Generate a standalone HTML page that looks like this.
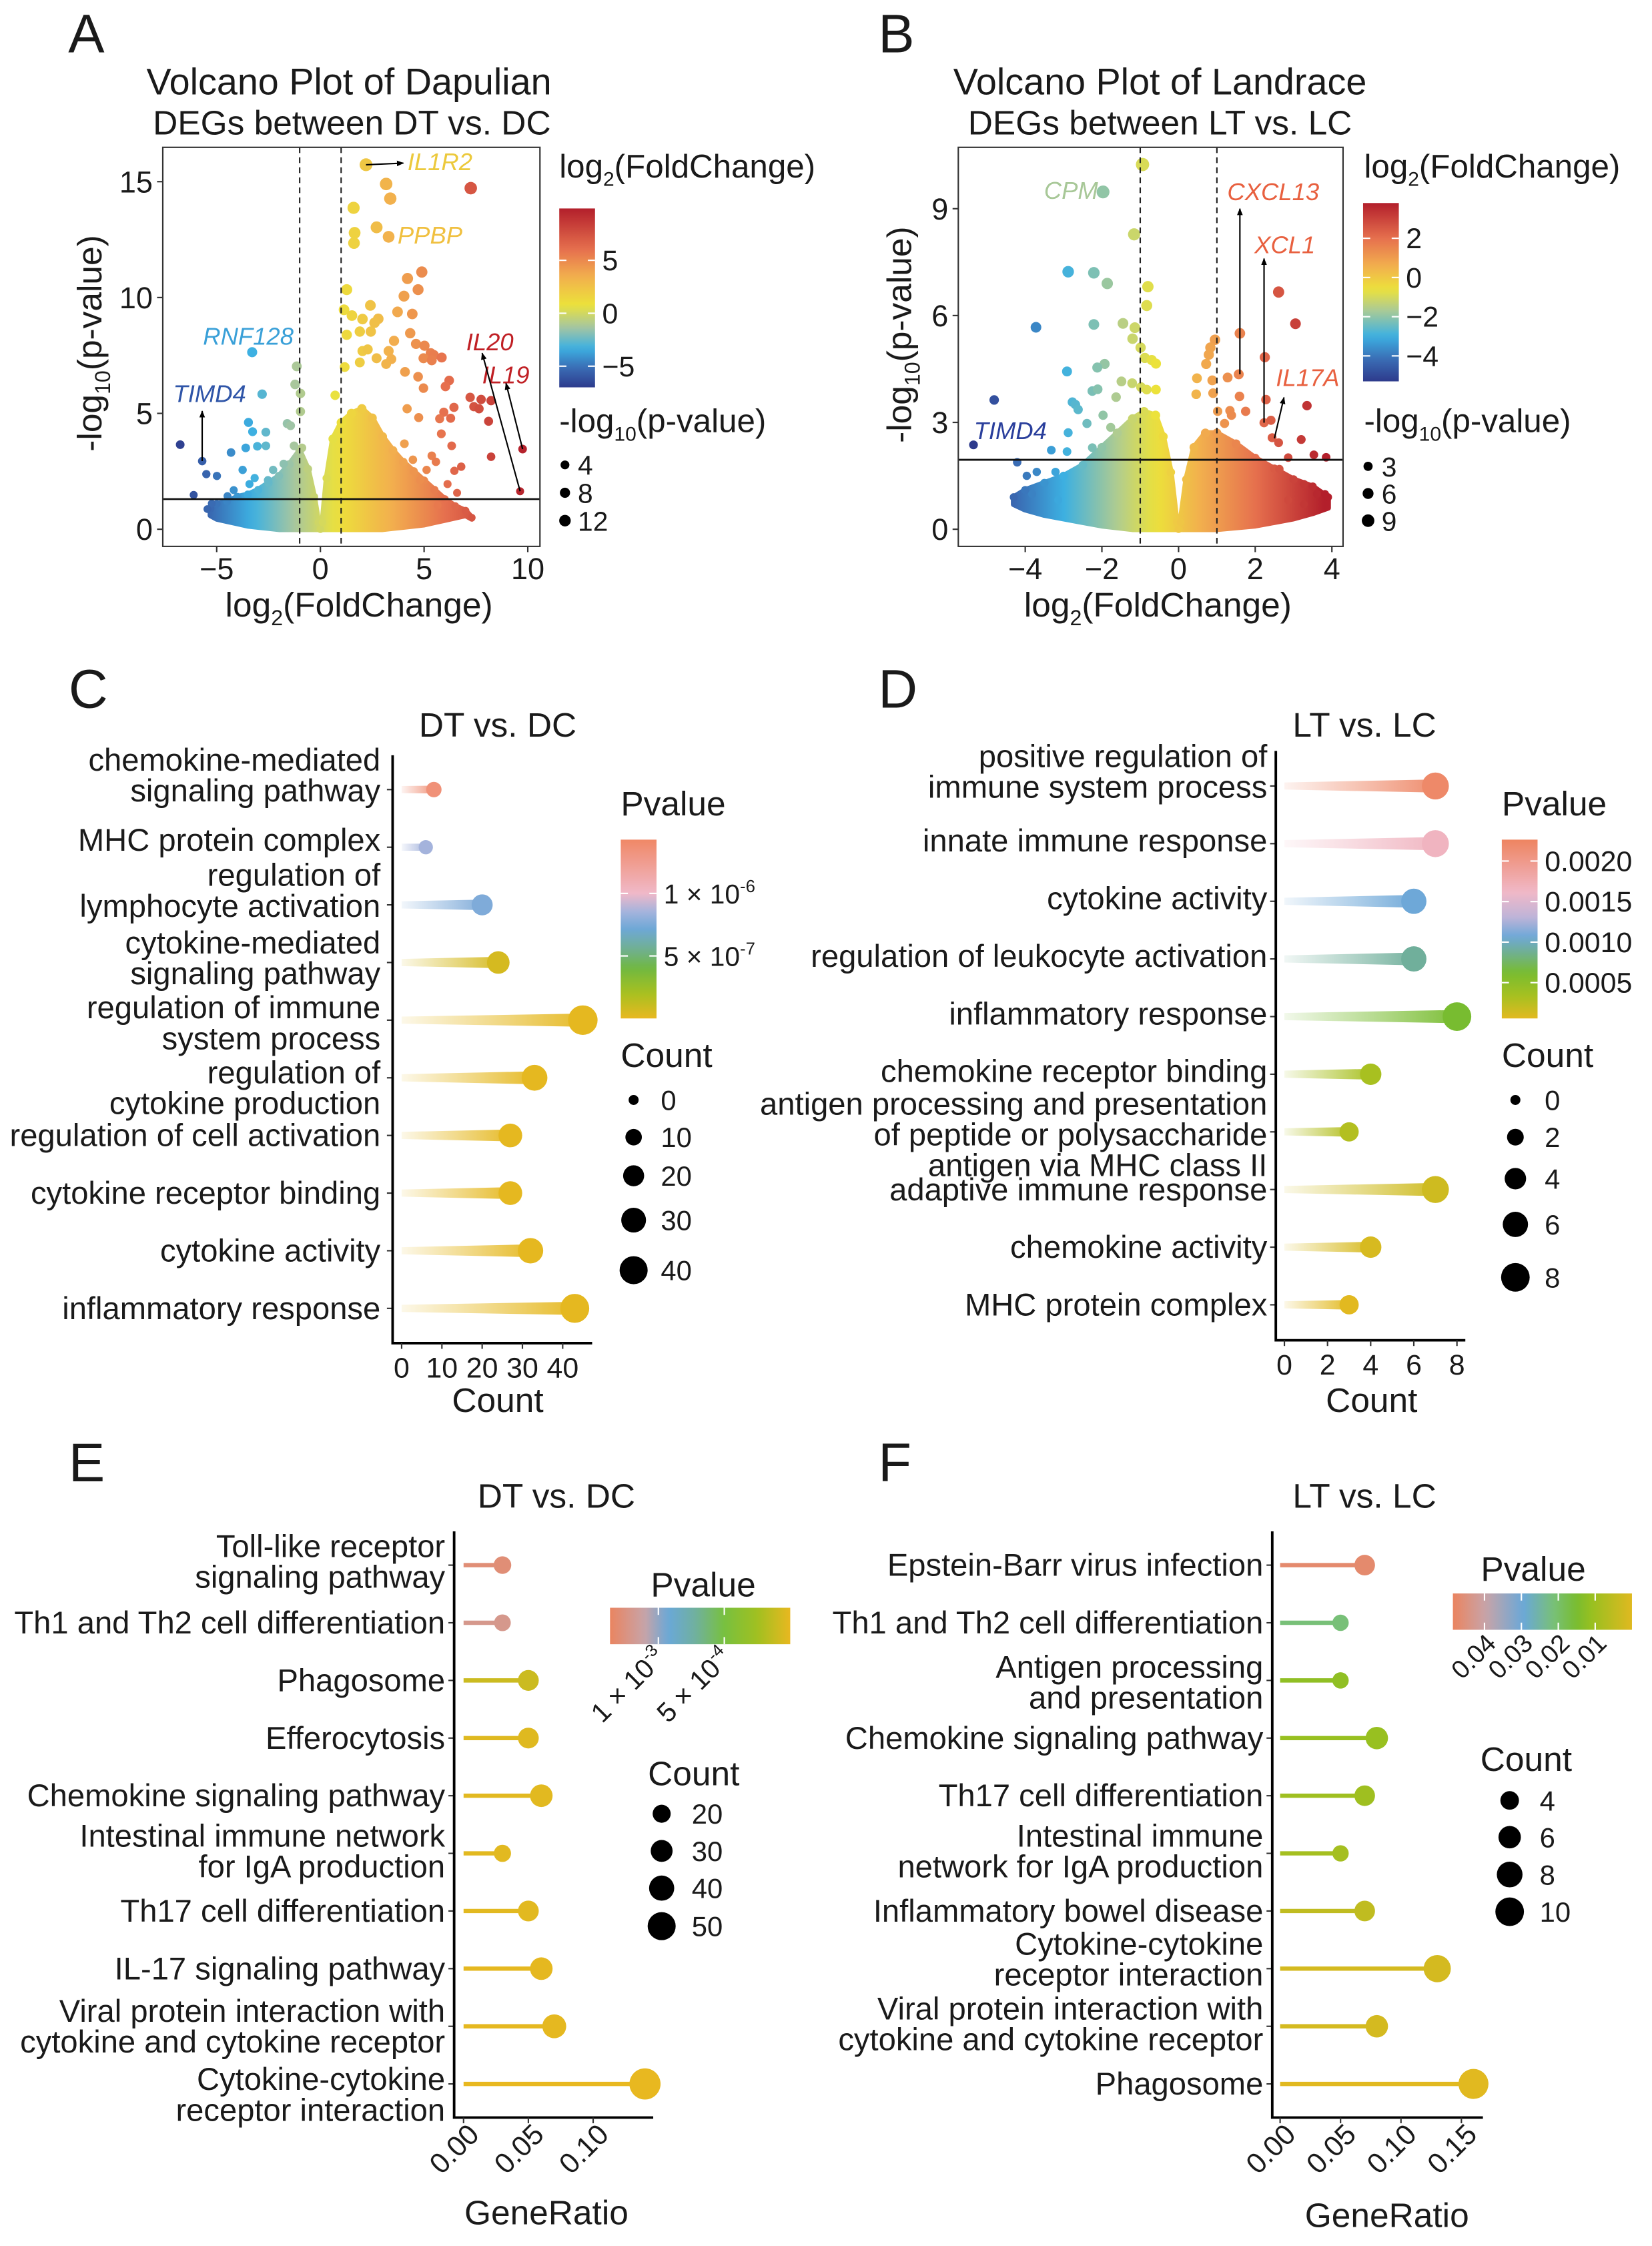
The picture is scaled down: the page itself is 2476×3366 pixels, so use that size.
<!DOCTYPE html>
<html><head><meta charset="utf-8">
<style>
html,body{margin:0;padding:0;background:#fff}
svg{display:block;font-family:"Liberation Sans",Arial,sans-serif}
text{fill:#1a1a1a}
</style></head>
<body>
<svg id="fig" xmlns="http://www.w3.org/2000/svg" width="2476" height="3366" viewBox="0 0 1155 1570.2">
<defs id="defs">
<marker id="arrow" viewBox="0 0 10 10" refX="9" refY="5" markerWidth="5" markerHeight="5" orient="auto"><path d="M0,1 L10,5 L0,9 z" fill="#000"/></marker>
</defs>
<rect x="0" y="0" width="1155" height="1570.2" fill="#fff"/>
<text x="47.7" y="36.7" font-size="38">A</text>
<text x="614" y="36.7" font-size="38">B</text>
<text x="48" y="494.6" font-size="38">C</text>
<text x="614" y="494.6" font-size="38">D</text>
<text x="48" y="1035.6" font-size="38">E</text>
<text x="614" y="1035.6" font-size="38">F</text>
<text x="244" y="66" font-size="26" text-anchor="middle">Volcano Plot of Dapulian</text>
<text x="246" y="94" font-size="24" text-anchor="middle">DEGs between DT vs. DC</text>
<text transform="translate(71,240) rotate(-90)" font-size="24" text-anchor="middle">-log<tspan font-size="15" dy="6">10</tspan><tspan dy="-6">(p-value)</tspan></text>
<text x="251" y="431" font-size="24" text-anchor="middle">log<tspan font-size="15" dy="6">2</tspan><tspan dy="-6">(FoldChange)</tspan></text>
<text x="391" y="124" font-size="23">log<tspan font-size="14" dy="6">2</tspan><tspan dy="-6">(FoldChange)</tspan></text>
<text x="391" y="302" font-size="23">-log<tspan font-size="14" dy="6">10</tspan><tspan dy="-6">(p-value)</tspan></text>
<text x="811" y="66" font-size="26" text-anchor="middle">Volcano Plot of Landrace</text>
<text x="811" y="94" font-size="24" text-anchor="middle">DEGs between LT vs. LC</text>
<text transform="translate(637,234) rotate(-90)" font-size="24" text-anchor="middle">-log<tspan font-size="15" dy="6">10</tspan><tspan dy="-6">(p-value)</tspan></text>
<text x="809.5" y="431" font-size="24" text-anchor="middle">log<tspan font-size="15" dy="6">2</tspan><tspan dy="-6">(FoldChange)</tspan></text>
<text x="953.7" y="124" font-size="23">log<tspan font-size="14" dy="6">2</tspan><tspan dy="-6">(FoldChange)</tspan></text>
<text x="953.7" y="302" font-size="23">-log<tspan font-size="14" dy="6">10</tspan><tspan dy="-6">(p-value)</tspan></text>
<text x="348" y="515" font-size="24" text-anchor="middle">DT vs. DC</text>
<text x="954" y="515" font-size="24" text-anchor="middle">LT vs. LC</text>
<text x="348" y="987" font-size="24" text-anchor="middle">Count</text>
<text x="959" y="987" font-size="24" text-anchor="middle">Count</text>
<text x="434" y="570" font-size="24">Pvalue</text>
<text x="1050" y="570" font-size="24">Pvalue</text>
<text x="434" y="746" font-size="24">Count</text>
<text x="1050" y="746" font-size="24">Count</text>
<text x="389" y="1054" font-size="24" text-anchor="middle">DT vs. DC</text>
<text x="954" y="1054" font-size="24" text-anchor="middle">LT vs. LC</text>
<text x="382" y="1555" font-size="24" text-anchor="middle">GeneRatio</text>
<text x="969.7" y="1557" font-size="24" text-anchor="middle">GeneRatio</text>
<text x="491.7" y="1116" font-size="24" text-anchor="middle">Pvalue</text>
<text x="1072" y="1105" font-size="24" text-anchor="middle">Pvalue</text>
<text x="453" y="1248" font-size="24">Count</text>
<text x="1035" y="1238" font-size="24">Count</text>
</svg>
<script>
// ================= DATA =================
const volcA_fc=[2.2,3.17,3.37,7.25,1.6,2.71,1.65,3.29,1.62,4.89,4.2,1.27,4.71,4.03,2.41,1.14,3.72,4.43,1.52,2.03,2.79,2.61,4.33,1.27,1.9,2.43,3.55,4.61,5.02,2.03,2.28,2.71,3.29,3.42,5.32,5.47,5.85,4.97,5.37,1.9,3.17,1.17,4.08,4.71,6.21,6.03,4.97,-3.29,-1.14,-1.22,-0.96,-2.81,0.71,-0.96,7.22,7.75,8.23,7.4,7.65,8.11,6.44,5.95,6.28,5.75,4.18,4.74,-1.6,-1.44,-3.47,-3.27,-2.63,-6.76,-3.6,-3.04,-2.63,-4.31,-5.7,9.75,8.23,9.63,-5.5,-4.99,-3.75,-6.11,-5.24,-5.45,6.33,6.79,6.46,6.13,6.59,5.65,5.83,5.37,5.57,5.12,4.81,4.46,4.05,-4.48,-4.18,-3.42,-3.17,-2.53,-2.28,-1.27,-0.89,-1.77];
const volcA_p=[15.73,14.9,14.27,14.72,13.87,13.03,12.79,12.62,12.35,11.1,10.82,10.34,10.34,10.06,9.66,9.47,9.38,9.29,9.22,9.07,9.08,8.91,8.46,8.39,8.53,8.53,8.13,8.0,7.92,7.69,7.76,7.38,7.69,7.34,7.6,7.52,7.41,7.38,7.29,7.2,7.13,7.0,6.79,6.58,6.42,6.16,6.09,7.64,7.03,6.25,5.86,5.83,5.78,5.08,5.69,5.6,5.55,5.29,5.2,4.66,5.26,5.05,4.79,4.77,5.2,4.82,4.56,4.47,4.61,4.21,4.19,3.65,3.51,3.58,3.6,3.31,2.94,3.46,3.13,1.64,2.38,2.3,2.56,1.48,1.11,0.87,3.6,2.7,2.52,1.95,1.57,1.03,4.12,3.17,2.91,2.56,2.12,3.0,3.69,1.43,1.69,1.95,2.21,2.12,2.56,3.6,3.51,2.82];
const volcA_envFc=[-5.3,-5,-4.5,-4,-3.5,-3,-2.5,-2,-1.5,-1,-0.6,-0.3,-0.1,0,0.1,0.3,0.6,1,1.5,2,2.5,3,3.5,4,4.5,5,5.5,6,6.5,7,7.3];
const volcA_envP=[0.9,1.1,1.2,1.4,1.5,1.7,2.0,2.3,2.8,3.4,2.6,1.4,0.3,0,0.3,2.2,3.9,4.6,5.0,5.2,4.8,4.0,3.4,2.9,2.5,2.1,1.7,1.3,1.0,0.8,0.5];
const volcA_envBot=[0.6,0.45,0.35,0.25,0.15,0.1,0.05,0,0,0,0,0,0,0,0,0,0,0,0,0,0,0,0.05,0.1,0.15,0.2,0.3,0.4,0.5,0.6,0.45];
const volcA_xTicks=[-5,0,5,10];
const volcA_yTicks=[0,5,10,15];
const volcA_cbTicks=[5,0,-5];
const volcA_sizeTicks=[4,8,12];
const volcA_genes=['IL1R2','PPBP','RNF128','TIMD4','IL20','IL19'];
const volcA_geneFc=[4.2,3.72,-5.66,-7.1,7.03,7.8];
const volcA_geneP=[15.86,12.7,8.33,5.86,8.09,6.67];
const volcA_geneColor=['#ecc93c','#f0c040','#3aa0d8','#2f55a8','#c01f24','#c01f24'];
const volcA_arrFromFc=[2.2,-5.7,9.63,9.75];
const volcA_arrFromP=[15.73,2.94,1.64,3.46];
const volcA_arrToFc=[4.0,-5.7,7.8,8.95];
const volcA_arrToP=[15.8,5.1,7.6,6.3];

const volcB_fc=[-0.94,-1.97,-1.16,-2.88,-2.21,-1.86,-0.8,-0.83,2.61,3.05,-3.72,-2.21,-1.45,-1.14,-1.2,1.6,0.95,0.83,0.79,-0.99,2.25,-0.88,-0.7,-0.59,-1.93,-2.12,0.72,-2.91,1.57,1.28,0.48,0.88,-1.49,-1.21,-0.98,-0.83,-0.59,-2.25,-2.11,-1.63,0.46,0.9,-4.81,1.59,2.28,3.35,-2.77,-2.69,-2.62,1.75,1.34,1.38,1.02,1.2,2.23,2.41,-2.88,2.44,2.61,3.2,-5.35,-3.32,-2.91,-4.21,2.86,3.53,3.85,2.63,-3.96,-3.7,-4.0,-3.82,-3.21,-3.14,3.27,3.61,3.82,2.86,3.27,-2.39,-1.97,-1.77,-2.25];
const volcB_p=[10.24,9.47,8.28,7.23,7.2,6.9,6.81,6.28,6.66,5.77,5.67,5.75,5.78,5.66,5.35,5.5,5.32,5.1,4.9,5.1,4.83,4.81,4.75,4.65,4.64,4.54,4.64,4.43,4.35,4.26,4.24,4.18,4.15,4.1,3.99,3.92,3.92,3.88,3.93,3.71,3.79,3.82,3.63,3.73,3.64,3.47,3.57,3.5,3.36,3.31,3.33,3.2,3.31,2.97,2.99,3.06,2.71,2.57,2.43,2.52,2.37,2.22,2.18,1.88,2.01,2.09,2.02,1.69,1.5,1.61,1.1,0.99,1.61,0.82,1.27,0.99,0.99,0.82,0.7,2.97,3.2,2.86,2.29];
const volcB_envFc=[-4.3,-4,-3.5,-3,-2.5,-2,-1.6,-1.2,-0.9,-0.6,-0.4,-0.2,-0.05,0,0.05,0.2,0.4,0.7,1,1.5,2,2.5,3,3.5,3.9];
const volcB_envP=[0.9,1.1,1.3,1.5,1.8,2.3,2.7,3.1,3.3,3.2,2.6,1.6,0.2,0,0.2,1.4,2.3,2.7,2.7,2.4,2.0,1.7,1.4,1.2,0.9];
const volcB_envBot=[0.7,0.55,0.4,0.3,0.2,0.1,0.05,0,0,0,0,0,0,0,0,0,0,0,0,0.05,0.1,0.2,0.3,0.45,0.6];
const volcB_xTicks=[-4,-2,0,2,4];
const volcB_yTicks=[0,3,6,9];
const volcB_cbTicks=[2,0,-2,-4];
const volcB_sizeTicks=[3,6,9];
const volcB_genes=['CPM','CXCL13','XCL1','IL17A','TIMD4'];
const volcB_geneFc=[-3.51,1.27,1.98,2.54,-5.34];
const volcB_geneP=[9.52,9.48,7.99,4.26,2.77];
const volcB_geneColor=['#a8c898','#e8603f','#e8603f','#e8603f','#2a3f9c'];
const volcB_arrFromFc=[1.6,2.23,2.5];
const volcB_arrFromP=[4.35,2.99,2.55];
const volcB_arrToFc=[1.6,2.23,2.75];
const volcB_arrToP=[9.0,7.6,3.7];

const goC_terms=[['chemokine-mediated','signaling pathway'],['MHC protein complex'],['regulation of','lymphocyte activation'],['cytokine-mediated','signaling pathway'],['regulation of immune','system process'],['regulation of','cytokine production'],['regulation of cell activation'],['cytokine receptor binding'],['cytokine activity'],['inflammatory response']];
const goC_count=[8,6,20,24,45,33,27,27,32,43];
const goC_p=[1.35e-6,0.85e-6,0.76e-6,0.06e-6,0.01e-6,0.01e-6,0.01e-6,0.01e-6,0.01e-6,0.01e-6];
const goC_xTicks=[0,10,20,30,40];
const goC_cbTicks=[1e-6,5e-7];
const goC_cbMant=['1 × 10','5 × 10'];
const goC_cbExp=['-6','-7'];
const goC_countTicks=[0,10,20,30,40];

const goD_terms=[['positive regulation of','immune system process'],['innate immune response'],['cytokine activity'],['regulation of leukocyte activation'],['inflammatory response'],['chemokine receptor binding'],['antigen processing and presentation','of peptide or polysaccharide','antigen via MHC class II'],['adaptive immune response'],['chemokine activity'],['MHC protein complex']];
const goD_count=[7,7,6,6,8,4,3,7,4,3];
const goD_p=[0.0022,0.00165,0.00105,0.00088,0.0006,0.0003,0.00025,0.00012,0.00008,0.00003];
const goD_xTicks=[0,2,4,6,8];
const goD_cbTicks=[0.002,0.0015,0.001,0.0005];
const goD_cbLabels=['0.0020','0.0015','0.0010','0.0005'];
const goD_countTicks=[0,2,4,6,8];

const keggE_terms=[['Toll-like receptor','signaling pathway'],['Th1 and Th2 cell differentiation'],['Phagosome'],['Efferocytosis'],['Chemokine signaling pathway'],['Intestinal immune network','for IgA production'],['Th17 cell differentiation'],['IL-17 signaling pathway'],['Viral protein interaction with','cytokine and cytokine receptor'],['Cytokine-cytokine','receptor interaction']];
const keggE_ratio=[0.03,0.03,0.05,0.05,0.06,0.03,0.05,0.06,0.07,0.14];
const keggE_count=[19,17,27,27,32,18,27,32,36,62];
const keggE_p=[1.28e-3,1.2e-3,0.1e-3,0.03e-3,0.02e-3,0.02e-3,0.02e-3,0.01e-3,0.01e-3,0.0];
const keggE_xTicks=[0,0.05,0.10];
const keggE_xLabels=['0.00','0.05','0.10'];
const keggE_cbTicks=[1e-3,5e-4];
const keggE_cbMant=['1 × 10','5 × 10'];
const keggE_cbExp=['-3','-4'];
const keggE_countTicks=[20,30,40,50];

const keggF_terms=[['Epstein-Barr virus infection'],['Th1 and Th2 cell differentiation'],['Antigen processing','and presentation'],['Chemokine signaling pathway'],['Th17 cell differentiation'],['Intestinal immune','network for IgA production'],['Inflammatory bowel disease'],['Cytokine-cytokine','receptor interaction'],['Viral protein interaction with','cytokine and cytokine receptor'],['Phagosome']];
const keggF_ratio=[0.07,0.05,0.05,0.08,0.07,0.05,0.07,0.13,0.08,0.16];
const keggF_count=[5,3,3,6,5,3,5,9,6,11];
const keggF_p=[0.047,0.022,0.013,0.012,0.011,0.010,0.006,0.003,0.003,0.001];
const keggF_xTicks=[0,0.05,0.10,0.15];
const keggF_xLabels=['0.00','0.05','0.10','0.15'];
const keggF_cbTicks=[0.04,0.03,0.02,0.01];
const keggF_cbLabels=['0.04','0.03','0.02','0.01'];
const keggF_countTicks=[4,6,8,10];

// ================= STYLE =================
const stopsA=[[-7,'#2d3a8c'],[-5.2,'#3a6cb4'],[-3.3,'#3cb0e2'],[-1.3,'#a6c6a0'],[0.8,'#ece23a'],[3.5,'#f2ae4e'],[6,'#e6704e'],[9.9,'#b31f2b']];
const stopsB=[[-5.3,'#2d3a8c'],[-4.2,'#3a6cb4'],[-3,'#3cb0e2'],[-1.6,'#b0cc90'],[-0.6,'#ece23a'],[0.6,'#f2ae4e'],[2,'#e6704e'],[3.8,'#b31f2b']];
const stopsC=[[0,'#e8b820'],[0.2e-6,'#a8c020'],[0.4e-6,'#70b840'],[0.55e-6,'#70b090'],[0.72e-6,'#6ea8d8'],[0.86e-6,'#a8b4dc'],[1.0e-6,'#f0b8c8'],[1.43e-6,'#f08866']];
const stopsD=[[0,'#e8b820'],[0.0003,'#a8c020'],[0.0006,'#78bc30'],[0.00085,'#70b090'],[0.00105,'#6ea8d8'],[0.0013,'#c0b4d8'],[0.0016,'#f0b8c8'],[0.00226,'#ee8460']];
const stopsE=[[0,'#e8b820'],[0.25e-3,'#a0c020'],[0.5e-3,'#78c040'],[0.72e-3,'#70b0a0'],[0.92e-3,'#6aa8d8'],[1.1e-3,'#c8a4a8'],[1.36e-3,'#ea8460']];
const stopsF=[[0,'#e8b820'],[0.012,'#98c020'],[0.016,'#78bc30'],[0.022,'#78c078'],[0.03,'#6aa8d8'],[0.04,'#c8a4a8'],[0.0486,'#ea8460']];

// ================= HELPERS =================
const NS='http://www.w3.org/2000/svg';
const svg=document.getElementById('fig');
const defs=document.getElementById('defs');
function mk(tag,attrs,parent){const e=document.createElementNS(NS,tag);for(const k in attrs)e.setAttribute(k,attrs[k]);(parent||svg).appendChild(e);return e;}
function h2r(h){return [parseInt(h.slice(1,3),16),parseInt(h.slice(3,5),16),parseInt(h.slice(5,7),16)];}
function mix(a,b,t){const A=h2r(a),B=h2r(b);return 'rgb('+A.map((v,i)=>Math.round(v+(B[i]-v)*t)).join(',')+')';}
function colorAt(stops,v){if(v<=stops[0][0])return mix(stops[0][1],stops[0][1],0);for(let i=1;i<stops.length;i++){if(v<=stops[i][0]){const t=(v-stops[i-1][0])/(stops[i][0]-stops[i-1][0]);return mix(stops[i-1][1],stops[i][1],t);}}const l=stops[stops.length-1][1];return mix(l,l,0);}
function T(x,y,s,size,anchor,parent){const e=mk('text',{x:x,y:y,'font-size':size,'text-anchor':anchor||'start'},parent);e.textContent=s;return e;}
const fmtMinus=v=>String(v).replace('-','\u2212');

// ================= VOLCANO =================
function drawVolcano(P){
  const g=mk('g',{});
  
  
  const [L,Tp,R,B]=P.box;
  const sx=v=>P.x0+v*P.kx, sy=v=>P.y0-v*P.ky, inv=px=>(px-P.x0)/P.kx;
  const cp=mk('clipPath',{id:P.id+'-clip'},defs);
  mk('rect',{x:L,y:Tp,width:R-L,height:B-Tp},cp);
  const lg=mk('linearGradient',{id:P.id+'-grad',gradientUnits:'userSpaceOnUse',x1:L,x2:R,y1:0,y2:0},defs);
  for(let i=0;i<=40;i++){const px=L+(R-L)*i/40;mk('stop',{offset:i/40,'stop-color':colorAt(P.stops,inv(px))},lg);}
  const pg=mk('g',{'clip-path':'url(#'+P.id+'-clip)'},g);
  
  
  const pts=P.envFc.map((v,i)=>sx(v)+','+sy(P.envP[i]));
  for(let i=P.envFc.length-1;i>=0;i--) pts.push(sx(P.envFc[i])+','+sy(P.envBot[i]));
  const cloud=mk('polygon',{points:pts.join(' '),fill:'url(#'+P.id+'-grad)',stroke:'url(#'+P.id+'-grad)','stroke-width':4,'stroke-linejoin':'round'},pg);
  
  
  P.envFc.forEach((v,i)=>{
    const c=mk('circle',{cx:sx(v),cy:sy(P.envP[i]),r:P.rf(P.envP[i]),fill:colorAt(P.stops,v)},pg);
    
    
  });
  P.fc.forEach((v,i)=>{
    const c=mk('circle',{cx:sx(v),cy:sy(P.p[i]),r:P.rf(P.p[i]),fill:colorAt(P.stops,v)},pg);
    
    
  });
  P.vlines.forEach(v=>{
    const l=mk('line',{x1:sx(v),x2:sx(v),y1:Tp,y2:B,stroke:'#222','stroke-width':1,'stroke-dasharray':'4,3'},g);
    
    
  });
  const hl=mk('line',{x1:L,x2:R,y1:sy(P.hline),y2:sy(P.hline),stroke:'#111','stroke-width':1.3},g);
  
  
  const box=mk('rect',{x:L,y:Tp,width:R-L,height:B-Tp,fill:'none',stroke:'#333','stroke-width':1},g);
  
  
  P.xTicks.forEach(t=>{
    const tk=mk('line',{x1:sx(t),x2:sx(t),y1:B,y2:B+4,stroke:'#333','stroke-width':1},g);
    
    
    const tl=T(sx(t),B+23,fmtMinus(t),21,'middle',g);
    
    
  });
  P.yTicks.forEach(t=>{
    const tk=mk('line',{x1:L-4,x2:L,y1:sy(t),y2:sy(t),stroke:'#333','stroke-width':1},g);
    
    
    const tl=T(L-7,sy(t)+7.5,String(t),21,'end',g);
    
    
  });
  P.genes.forEach((s,i)=>{
    const t=T(sx(P.geneFc[i]),sy(P.geneP[i])+6,s,17,'start',g);
    t.setAttribute('font-style','italic');
    t.setAttribute('style','fill:'+P.geneColor[i]);
    
    
  });
  P.arrFromFc.forEach((v,i)=>{
    const a=mk('line',{x1:sx(v),y1:sy(P.arrFromP[i]),x2:sx(P.arrToFc[i]),y2:sy(P.arrToP[i]),stroke:'#000','stroke-width':1,'marker-end':'url(#arrow)'},g);
    
    
  });
  const cb=P.cb;
  const cy=v=>cb.y0-v*cb.k;
  const cg=mk('linearGradient',{id:P.id+'-cb',x1:0,y1:1,x2:0,y2:0},defs);
  for(let i=0;i<=30;i++){const v=cb.min+(cb.max-cb.min)*i/30;mk('stop',{offset:i/30,'stop-color':colorAt(P.stops,v)},cg);}
  const cr=mk('rect',{x:cb.x,y:cy(cb.max),width:cb.w,height:cy(cb.min)-cy(cb.max),fill:'url(#'+P.id+'-cb)'},g);
  
  
  cb.ticks.forEach(t=>{
    const w1=mk('line',{x1:cb.x,x2:cb.x+5,y1:cy(t),y2:cy(t),stroke:'#fff','stroke-width':1},g);
    
    
    const w2=mk('line',{x1:cb.x+cb.w-5,x2:cb.x+cb.w,y1:cy(t),y2:cy(t),stroke:'#fff','stroke-width':1},g);
    
    
    const tl=T(cb.lx,cy(t)+7,fmtMinus(t),20,'start',g);
    
    
  });
  P.size.vals.forEach((v,i)=>{
    const c=mk('circle',{cx:P.size.x,cy:P.size.ys[i],r:P.rf(v),fill:'#000'},g);
    
    
    const tl=T(P.size.lx,P.size.ys[i]+7,String(v),19,'start',g);
    
    
  });
}

drawVolcano({id:'va',name:'volcano-plot-dapulian',box:[113.8,103,377.5,382],x0:224,kx:14.5,y0:370,ky:16.2,
  fc:volcA_fc,p:volcA_p,envFc:volcA_envFc,envP:volcA_envP,envBot:volcA_envBot,stops:stopsA,rf:p=>2.6+0.12*p,
  vlines:[-1,1],hline:1.3,xTicks:volcA_xTicks,yTicks:volcA_yTicks,
  genes:volcA_genes,geneFc:volcA_geneFc,geneP:volcA_geneP,geneColor:volcA_geneColor,
  arrFromFc:volcA_arrFromFc,arrFromP:volcA_arrFromP,arrToFc:volcA_arrToFc,arrToP:volcA_arrToP,
  cb:{x:391,w:25,y0:219,k:7.4,min:-7,max:9.9,ticks:volcA_cbTicks,lx:421},
  size:{x:395,lx:404,ys:[325,344.5,364],vals:volcA_sizeTicks}});

drawVolcano({id:'vb',name:'volcano-plot-landrace',box:[670,103,939,382],x0:824,kx:26.8,y0:370,ky:24.9,
  fc:volcB_fc,p:volcB_p,envFc:volcB_envFc,envP:volcB_envP,envBot:volcB_envBot,stops:stopsB,rf:p=>2.6+0.2*p,
  vlines:[-1,1],hline:1.95,xTicks:volcB_xTicks,yTicks:volcB_yTicks,
  genes:volcB_genes,geneFc:volcB_geneFc,geneP:volcB_geneP,geneColor:volcB_geneColor,
  arrFromFc:volcB_arrFromFc,arrFromP:volcB_arrFromP,arrToFc:volcB_arrToFc,arrToP:volcB_arrToP,
  cb:{x:953,w:25,y0:194,k:13.7,min:-5.3,max:3.8,ticks:volcB_cbTicks,lx:983},
  size:{x:956.5,lx:966,ys:[326,345,364],vals:volcB_sizeTicks}});

// ================= LOLLIPOP =================
function drawLolli(P){
  const g=mk('g',{});
  
  
  const rowY=i=>P.y0+i*P.dy;
  P.terms.forEach((lines,i)=>{
    const y=rowY(i);
    const col=colorAt(P.stops,P.pv[i]);
    const r=P.rf(P.cnt[i]);
    const x0=P.sx(0), xv=P.sx(P.vals[i]);
    const tk=mk('line',{x1:P.ax-4,x2:P.ax,y1:y,y2:y,stroke:'#333','stroke-width':1},g);
    
    
    const n=lines.length;
    lines.forEach((s,j)=>{
      const t=T(P.lx,y+P.shift[i]+(j-(n-1)/2)*21.5+7.5,s,22,'end',g);
      
      
    });
    if(P.wedge){
      const gid=P.id+'-stem'+i;
      const lg=mk('linearGradient',{id:gid,x1:0,y1:0,x2:1,y2:0},defs);
      mk('stop',{offset:0,'stop-color':col,'stop-opacity':0.1},lg);
      mk('stop',{offset:0.6,'stop-color':col,'stop-opacity':0.6},lg);
      mk('stop',{offset:1,'stop-color':col,'stop-opacity':0.95},lg);
      const h=Math.min(r*0.5,4.6);
      const st=mk('polygon',{points:`${x0},${y-2.5} ${xv},${y-h} ${xv},${y+h} ${x0},${y+2.5}`,fill:'url(#'+gid+')'},g);
      
      
    } else {
      const st=mk('line',{x1:x0,x2:xv,y1:y,y2:y,stroke:col,'stroke-width':3},g);
      
      
    }
    const d=mk('circle',{cx:xv,cy:y,r:r,fill:col},g);
    
    
  });
  const ax=mk('path',{d:`M${P.ax},${P.top} V${P.bot} H${P.right}`,stroke:'#000','stroke-width':1.8,fill:'none'},g);
  
  
  P.xTicks.forEach((t,i)=>{
    const x=P.sx(t);
    const tk=mk('line',{x1:x,x2:x,y1:P.bot,y2:P.bot+4,stroke:'#333','stroke-width':1},g);
    
    
    let tl;
    if(P.rotTicks){
      tl=T(0,0,P.xLabels[i],20,'end',g);
      tl.setAttribute('transform',`translate(${x+12},${P.bot+13}) rotate(-45)`);
    } else {
      tl=T(x,P.bot+24,String(t),20,'middle',g);
    }
    
    
  });
  const cb=P.cb;
  const cg=mk('linearGradient',P.cbVertical?{id:P.id+'-cb',x1:0,y1:1,x2:0,y2:0}:{id:P.id+'-cb',x1:1,y1:0,x2:0,y2:0},defs);
  for(let i=0;i<=30;i++){const v=cb.min+(cb.max-cb.min)*i/30;mk('stop',{offset:i/30,'stop-color':colorAt(P.stops,v)},cg);}
  const cr=mk('rect',{x:cb.x,y:cb.y,width:cb.w,height:cb.h,fill:'url(#'+P.id+'-cb)'},g);
  
  
  cb.ticks.forEach((t,i)=>{
    const p=cb.pos(t);
    if(P.cbVertical){
      const w1=mk('line',{x1:cb.x,x2:cb.x+5,y1:p,y2:p,stroke:'#fff','stroke-width':1},g);
      
      
      const w2=mk('line',{x1:cb.x+cb.w-5,x2:cb.x+cb.w,y1:p,y2:p,stroke:'#fff','stroke-width':1},g);
      
      
    } else {
      const w1=mk('line',{x1:p,x2:p,y1:cb.y,y2:cb.y+5,stroke:'#fff','stroke-width':1},g);
      
      
      const w2=mk('line',{x1:p,x2:p,y1:cb.y+cb.h-5,y2:cb.y+cb.h,stroke:'#fff','stroke-width':1},g);
      
      
    }
    let tl;
    if(cb.mant){
      tl=mk('text',{'font-size':19,'text-anchor':P.cbVertical?'start':'end'},g);
      const a=mk('tspan',{},tl); a.textContent=cb.mant[i];
      const b=mk('tspan',{'font-size':12,dy:-8},tl); b.textContent=cb.exp[i];
    } else {
      tl=mk('text',{'font-size':P.cbVertical?20:18,'text-anchor':P.cbVertical?'start':'end'},g);
      tl.textContent=cb.labels[i];
    }
    if(P.cbVertical) tl.setAttribute('transform',`translate(${cb.lx},${p+7})`);
    else tl.setAttribute('transform',`translate(${p+cb.lxo},${cb.ly}) rotate(-45)`);
    
    
  });
  P.cl.vals.forEach((v,i)=>{
    const c=mk('circle',{cx:P.cl.x,cy:P.cl.ys[i],r:P.rf(v),fill:'#000'},g);
    
    
    const tl=T(P.cl.lx,P.cl.ys[i]+7,String(v),19.5,'start',g);
    
    
  });
}
const rC=c=>Math.sqrt(12.25+(96-12.25)*c/40);
const rD=c=>Math.sqrt(12.25+(100-12.25)*c/8);
const rE=c=>Math.sqrt(2.2+1.877*c);
const rF=c=>Math.sqrt(3.75+9.625*c);

drawLolli({id:'gc',name:'go-lollipop-dt-vs-dc',terms:goC_terms,vals:goC_count,cnt:goC_count,pv:goC_p,stops:stopsC,rf:rC,
  sx:v=>280.8+v*2.815,y0:552,dy:40.3,ax:274.5,top:528,bot:939,right:414,lx:266,
  shift:[-10,-5,-10,-3,2,7,0,0,0,0],wedge:true,xTicks:goC_xTicks,rotTicks:false,cbVertical:true,
  cb:{x:434,y:587,w:25,h:125,min:0,max:1.43e-6,ticks:goC_cbTicks,mant:goC_cbMant,exp:goC_cbExp,pos:v=>712-v/1.43e-6*125,lx:464},
  cl:{x:443,lx:462,ys:[769,795,822,853,888],vals:goC_countTicks}});

drawLolli({id:'gd',name:'go-lollipop-lt-vs-lc',terms:goD_terms,vals:goD_count,cnt:goD_count,pv:goD_p,stops:stopsD,rf:rD,
  sx:v=>898+v*15.08,y0:549.5,dy:40.3,ax:892,top:525,bot:937,right:1024.5,lx:886,
  shift:[-10,-2,-2,-2,-2,-2,2,0,0,0],wedge:true,xTicks:goD_xTicks,rotTicks:false,cbVertical:true,
  cb:{x:1050,y:587,w:25,h:125,min:0.00003,max:0.00226,ticks:goD_cbTicks,labels:goD_cbLabels,pos:v=>715.3-v*56667,lx:1080},
  cl:{x:1059.5,lx:1080,ys:[769,795,824,856,893],vals:goD_countTicks}});

drawLolli({id:'ke',name:'kegg-lollipop-dt-vs-dc',terms:keggE_terms,vals:keggE_ratio,cnt:keggE_count,pv:keggE_p,stops:stopsE,rf:rE,
  sx:v=>324.1+v*906,y0:1094.2,dy:40.3,ax:317.5,top:1070.6,bot:1480.4,right:456.7,lx:311.2,
  shift:[-2.5,0,0,0,0,-1.5,0,0,0,7.5],wedge:false,xTicks:keggE_xTicks,xLabels:keggE_xLabels,rotTicks:true,cbVertical:false,
  cb:{x:426.5,y:1124,w:126,h:25.5,min:0,max:1.36e-3,ticks:keggE_cbTicks,mant:keggE_cbMant,exp:keggE_cbExp,pos:v=>552.5-v*92200,lxo:6,ly:1160},
  cl:{x:462.6,lx:483.6,ys:[1268,1294,1320,1346.6],vals:keggE_countTicks}});

drawLolli({id:'kf',name:'kegg-lollipop-lt-vs-lc',terms:keggF_terms,vals:keggF_ratio,cnt:keggF_count,pv:keggF_p,stops:stopsF,rf:rF,
  sx:v=>895+v*845,y0:1094.2,dy:40.3,ax:889.5,top:1070.6,bot:1480.4,right:1036.8,lx:883.2,
  shift:[0,0,1.5,0,0,-1.5,0,-6.5,-1.5,0],wedge:false,xTicks:keggF_xTicks,xLabels:keggF_xLabels,rotTicks:true,cbVertical:false,
  cb:{x:1015.8,y:1114,w:125.2,h:25.4,min:0.0013,max:0.0486,ticks:keggF_cbTicks,labels:keggF_cbLabels,pos:v=>1037.9+(0.04-v)*2580,lxo:9,ly:1150},
  cl:{x:1055.5,lx:1076.5,ys:[1258.7,1284.4,1310.5,1336.5],vals:keggF_countTicks}});
</script>
</body></html>
